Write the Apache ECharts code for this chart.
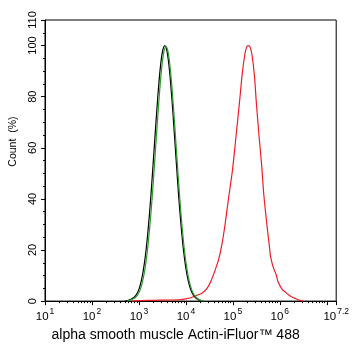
<!DOCTYPE html>
<html><head><meta charset="utf-8">
<script src="https://cdn.jsdelivr.net/npm/echarts@6/dist/echarts.min.js"></script>
<style>html,body{margin:0;padding:0;background:#fff}#c{width:352px;height:347px}</style>
</head><body><div id="c"></div>
<script>
// x values are log10(fluorescence intensity), y values are Count (%)
const xMajorTicks = [1, 2, 3, 4, 5, 6, 7, 7.2];
const xLabelTicks = [1, 2, 3, 4, 5, 6, 7.2];
const xLabelExponents = ['1', '2', '3', '4', '5', '6', '7.2'];
const yTicks = [0, 20, 40, 60, 80, 100, 110];
const yMinorTicks = [5,10,15,25,30,35,45,50,55,65,70,75,85,90,95,105];

const blackCurve = [
  [2.70,0],[2.75,0.2],[2.80,0.5],[2.85,0.9],[2.90,1.5],[2.95,2.7],[3.00,4.6],[3.05,7.9],[3.10,12.8],
  [3.15,19.7],[3.20,28.9],[3.25,40.1],[3.30,53.1],[3.35,66.6],[3.40,79.6],[3.45,90.4],[3.50,97.5],
  [3.55,100],[3.60,97.5],[3.65,90.4],[3.70,79.6],[3.75,66.6],[3.80,53.1],[3.85,40.1],[3.90,28.9],
  [3.95,19.7],[4.00,12.8],[4.05,7.9],[4.10,4.6],[4.15,2.6],[4.20,1.4],[4.25,0.7],[4.30,0.3],[4.36,0]
];
const greenCurve = [
  [2.74,0],[2.78,0.2],[2.83,0.5],[2.88,0.9],[2.93,1.5],[2.98,2.7],[3.03,4.6],[3.08,7.9],[3.13,12.8],
  [3.18,19.7],[3.23,28.9],[3.28,40.1],[3.33,53.1],[3.38,66.6],[3.43,79.6],[3.48,90.4],[3.53,97.5],
  [3.575,99.6],[3.62,97.5],[3.67,90.4],[3.72,79.6],[3.77,66.6],[3.82,53.1],[3.87,40.1],[3.92,28.9],
  [3.97,19.7],[4.02,12.8],[4.07,7.9],[4.12,4.6],[4.17,2.6],[4.22,1.4],[4.27,0.7],[4.32,0.3],[4.38,0]
];
const redCurve = [
  [2.85,0],[3.00,0.2],[3.30,0.3],[3.60,0.4],[3.90,0.6],[4.10,1.3],[4.25,2.4],[4.35,3.2],[4.45,5.0],
  [4.53,7.7],[4.63,12.5],[4.70,16.5],[4.76,21.5],[4.83,29.5],[4.91,40.5],[4.99,51],[5.07,65],[5.14,77.6],
  [5.20,89],[5.25,96],[5.29,99.3],[5.33,100],[5.37,99.3],[5.41,96],[5.46,88],[5.50,77.6],[5.56,64],
  [5.61,53.9],[5.66,41.4],[5.73,29],[5.78,21],[5.80,17.7],[5.84,14.5],[5.87,12.7],[5.92,10.5],
  [5.96,7.7],[6.05,4.6],[6.12,3.5],[6.17,2.7],[6.27,1.5],[6.35,0.8],[6.41,0.4],[6.50,0]
];

const xMinorTicks = [];
for (let n = 1; n <= 6; n++) for (let k = 2; k <= 9; k++) xMinorTicks.push(n + Math.log10(k));

const font = '"Liberation Sans", Arial, Helvetica, sans-serif';
const chart = echarts.init(document.getElementById('c'));
chart.setOption({
  animation: false,
  textStyle: { fontFamily: font },
  grid: { left: 45, right: 11, top: 20, bottom: 33, show: true, borderColor: '#000', borderWidth: 1 },
  xAxis: [{
    type: 'value', min: 1, max: 7.2, position: 'bottom',
    axisLine: { lineStyle: { color: '#000', width: 1 } },
    axisTick: { show: true, length: 4, customValues: xMajorTicks, lineStyle: { color: '#000' } },
    splitLine: { show: false },
    axisLabel: {
      customValues: xLabelTicks, margin: 6, color: '#000',
      formatter: v => {
        const i = xLabelTicks.findIndex(t => Math.abs(t - v) < 1e-6);
        return '{b|10}{s|' + xLabelExponents[i] + '}';
      },
      rich: {
        b: { fontSize: 11.5, fontFamily: font, color: '#000', padding: [4, 0, 0, 0] },
        s: { fontSize: 8.5, fontFamily: font, color: '#000', verticalAlign: 'top', padding: [0, 0, 6, 1] }
      }
    },
    name: 'alpha smooth muscle Actin-iFluor™ 488', nameLocation: 'middle', nameGap: 17,
    nameTextStyle: { fontSize: 14, color: '#000', fontFamily: font, padding: [0, 30, 0, 0] }
  }, {
    type: 'value', min: 1, max: 7.2, position: 'bottom', gridIndex: 0,
    axisLine: { show: false },
    axisTick: { show: true, length: 2, customValues: xMinorTicks, lineStyle: { color: '#000' } },
    axisLabel: { show: false }, splitLine: { show: false }
  }],
  yAxis: [{
    type: 'value', min: 0, max: 110, position: 'left',
    axisLine: { show: true, lineStyle: { color: '#000', width: 1 } },
    axisTick: { show: true, length: 4, customValues: yTicks, lineStyle: { color: '#000' } },
    splitLine: { show: false },
    axisLabel: { customValues: yTicks, rotate: 90, margin: 7, fontSize: 11, color: '#000', fontFamily: font },
    name: 'Count  (%)', nameLocation: 'middle', nameGap: 24,
    nameTextStyle: { fontSize: 10.5, color: '#000', fontFamily: font, padding: [0, 0, 0, 38] }
  }, {
    type: 'value', min: 0, max: 110, position: 'left', gridIndex: 0,
    axisLine: { show: false },
    axisTick: { show: true, length: 2, customValues: yMinorTicks, lineStyle: { color: '#000' } },
    axisLabel: { show: false }, splitLine: { show: false }
  }],
  series: [
    { type: 'line', data: redCurve, showSymbol: false, smooth: 0.3, lineStyle: { color: '#ee1c25', width: 1.2 }, z: 2 },
    { type: 'line', data: blackCurve, showSymbol: false, smooth: 0.3, lineStyle: { color: '#000', width: 1.2 }, z: 3 },
    { type: 'line', data: greenCurve, showSymbol: false, smooth: 0.3, lineStyle: { color: '#2a9a2a', width: 1.2 }, z: 4 }
  ]
});
</script></body></html>
